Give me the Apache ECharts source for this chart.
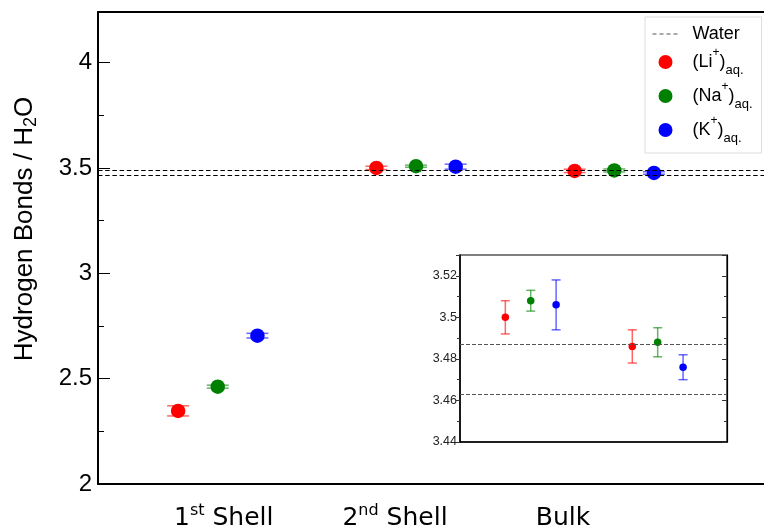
<!DOCTYPE html>
<html><head><meta charset="utf-8">
<script src="https://cdn.jsdelivr.net/npm/echarts@6/dist/echarts.min.js"></script>
<style>html,body{margin:0;padding:0;background:#fff}#c{width:764px;height:527px}</style>
</head><body><div id="c"></div>
<script>
// ---- data ----
const groupLabelBase = ['1', '2', 'Bulk'];
const groupLabelSup = ['st', 'nd', ''];
const groupLabelTail = [' Shell', ' Shell', ''];
const ions = ['Li', 'Na', 'K'];
const liValues = [2.347, 3.500, 3.486];
const liErrors = [0.024, 0.008, 0.008];
const naValues = [2.462, 3.508, 3.488];
const naErrors = [0.007, 0.005, 0.007];
const kValues = [2.704, 3.506, 3.476];
const kErrors = [0.011, 0.012, 0.006];
const waterValues = [3.487, 3.463];
const yTicksMain = [2, 2.5, 3, 3.5, 4];
const yTicksInset = [3.44, 3.46, 3.48, 3.5, 3.52];

// ---- layout ----
const groupPos = [1, 2, 3];
const ionOffset = [-0.2, 0, 0.2];
const labelPos = [1.03, 1.894, 2.741];
const colors = ['#ff0000', '#008000', '#0000ff'];
const errColors = ['rgba(255,0,0,0.6)', 'rgba(0,128,0,0.6)', 'rgba(0,0,255,0.6)'];
const valueSets = [liValues, naValues, kValues];
const errorSets = [liErrors, naErrors, kErrors];
const SANS = 'Liberation Sans';

function errRender(capHalf, lw) {
  return function (params, api) {
    const x = api.value(0), lo = api.value(2), hi = api.value(3);
    const a = api.coord([x, lo]), b = api.coord([x, hi]);
    const st = { stroke: api.visual('color'), lineWidth: lw, fill: null };
    return { type: 'group', children: [
      { type: 'line', shape: { x1: a[0], y1: a[1], x2: b[0], y2: b[1] }, style: st },
      { type: 'line', shape: { x1: a[0] - capHalf, y1: a[1], x2: a[0] + capHalf, y2: a[1] }, style: st },
      { type: 'line', shape: { x1: b[0] - capHalf, y1: b[1], x2: b[0] + capHalf, y2: b[1] }, style: st }
    ]};
  };
}

const series = [];
// water reference lines
series.push({ name: 'Water', type: 'line', xAxisIndex: 0, yAxisIndex: 0, data: [], symbol: 'none',
  itemStyle: { color: '#555' }, lineStyle: { type: [4, 3], color: '#555', width: 1 },
  markLine: { silent: true, precision: 4, symbol: ['none', 'none'], label: { show: false },
    lineStyle: { type: [4.5, 2.7], color: '#000', width: 1 },
    data: waterValues.map(v => ({ yAxis: v })) } });
series.push({ name: 'Water', type: 'line', xAxisIndex: 1, yAxisIndex: 1, data: [], symbol: 'none',
  lineStyle: { type: [4, 3], color: '#555', width: 1 },
  markLine: { silent: true, precision: 4, symbol: ['none', 'none'], label: { show: false },
    lineStyle: { type: [4, 2], color: '#555', width: 1 },
    data: waterValues.map(v => ({ yAxis: v })) } });

ions.forEach((ion, i) => {
  const vals = valueSets[i], errs = errorSets[i];
  const mainPts = vals.map((v, j) => [groupPos[j] + ionOffset[i], v]);
  const mainErr = vals.map((v, j) => [groupPos[j] + ionOffset[i], v, v - errs[j], v + errs[j]]);
  series.push({ name: ion + ' err', type: 'custom', xAxisIndex: 0, yAxisIndex: 0, z: 2,
    itemStyle: { color: errColors[i] }, renderItem: errRender(11, 1.5), data: mainErr, encode: { x: 0, y: 1 } });
  series.push({ name: ion, type: 'scatter', xAxisIndex: 0, yAxisIndex: 0, z: 3,
    symbolSize: 14.5, itemStyle: { color: colors[i], opacity: 1 }, data: mainPts });
  const insetIdx = [1, 2];
  series.push({ name: ion + ' err', type: 'custom', xAxisIndex: 1, yAxisIndex: 1, z: 2,
    itemStyle: { color: errColors[i] }, renderItem: errRender(4.5, 1.5),
    data: insetIdx.map(j => mainErr[j]), encode: { x: 0, y: 1 } });
  series.push({ name: ion, type: 'scatter', xAxisIndex: 1, yAxisIndex: 1, z: 3,
    symbolSize: 7.5, itemStyle: { color: colors[i], opacity: 1 }, data: insetIdx.map(j => mainPts[j]) });
});

const legendRich = {
  w: { fontFamily: SANS, fontSize: 18, lineHeight: 14, color: '#000', padding: [0, 0, 0, 9] },
  t: { fontFamily: SANS, fontSize: 18, lineHeight: 30, color: '#000', verticalAlign: 'middle' },
  p: { fontFamily: SANS, fontSize: 18, lineHeight: 30, color: '#000', verticalAlign: 'middle', padding: [0, 0, 0, 9] },
  sup: { fontFamily: SANS, fontSize: 12, lineHeight: 12, color: '#000', verticalAlign: 'top' },
  sub: { fontFamily: SANS, fontSize: 13, lineHeight: 13, color: '#000', verticalAlign: 'bottom' }
};

const option = {
  animation: false,
  backgroundColor: '#fff',
  grid: [
    { left: 98, right: 0, top: 12, bottom: 43, outerBoundsMode: 'none', containLabel: false },
    { left: 460, top: 255, width: 267, height: 187, show: true, backgroundColor: '#fff', borderColor: '#000', borderWidth: 1.2, outerBoundsMode: 'none', containLabel: false }
  ],
  legend: {
    data: [{ name: 'Water', itemStyle: { opacity: 0 }, lineStyle: { color: '#555', type: [4, 3], width: 1 } }].concat(ions),
    orient: 'vertical', left: 645, top: 17,
    padding: [8, 9, 8, 7], itemGap: 4, itemWidth: 26, itemHeight: 14,
    borderColor: '#ddd', borderWidth: 1, backgroundColor: '#fff',
    formatter: name => name === 'Water' ? '{w|Water}' : '{p|(' + name + '}{sup|+}{t|)}{sub|aq.}',
    textStyle: { rich: legendRich }
  },
  xAxis: [
    { type: 'value', gridIndex: 0, min: 0.396, max: 3.755, splitLine: { show: false },
      axisLine: { show: true, lineStyle: { color: '#000', width: 2 } }, axisTick: { show: false },
      axisLabel: { customValues: labelPos, margin: 19,
        formatter: (v) => { let j = 0; labelPos.forEach((p, k) => { if (Math.abs(p - v) < 0.01) j = k; });
          return '{n|' + groupLabelBase[j] + '}' + (groupLabelSup[j] ? '{s|' + groupLabelSup[j] + '}' : '') + (groupLabelTail[j] ? '{n|' + groupLabelTail[j] + '}' : ''); },
        rich: { n: { fontFamily: 'DejaVu Sans', fontSize: 25, lineHeight: 30, color: '#000' },
                s: { fontFamily: 'DejaVu Sans', fontSize: 16, lineHeight: 20, color: '#000', verticalAlign: 'top' } } } },
    { type: 'value', gridIndex: 1, min: 1.443, max: 3.546, splitLine: { show: false },
      axisLine: { show: true, lineStyle: { color: '#000', width: 1.5 } }, axisTick: { show: false }, axisLabel: { show: false } },
    { type: 'value', gridIndex: 0, position: 'top', min: 0.396, max: 3.755, splitLine: { show: false },
      axisLine: { show: true, lineStyle: { color: '#000', width: 2 } }, axisTick: { show: false }, axisLabel: { show: false } }
  ],
  yAxis: [
    { type: 'value', gridIndex: 0, min: 2, max: 4.24, interval: 0.5, splitLine: { show: false },
      axisLine: { show: true, lineStyle: { color: '#000', width: 2 } },
      axisTick: { inside: true, length: 12, lineStyle: { color: '#000', width: 1 } },
      minorTick: { show: true, splitNumber: 2, length: 6, lineStyle: { color: '#000', width: 1 } },
      axisLabel: { customValues: yTicksMain, fontFamily: SANS, fontSize: 24, color: '#000', margin: 6 } },
    { type: 'value', gridIndex: 1, min: 3.44, max: 3.53, interval: 0.02, splitLine: { show: false },
      axisLine: { show: true, lineStyle: { color: '#000', width: 1.5 } },
      axisTick: { inside: false, length: 4, lineStyle: { color: '#333', width: 1 } },
      minorTick: { show: true, splitNumber: 2, length: 3, lineStyle: { color: '#333', width: 1 } },
      axisLabel: { customValues: yTicksInset, fontFamily: SANS, fontSize: 12.5, color: '#222', margin: 3 } },
    { type: 'value', gridIndex: 1, position: 'right', min: 3.44, max: 3.53, interval: 0.02, splitLine: { show: false },
      axisLine: { show: true, lineStyle: { color: '#000', width: 1.2 } },
      axisTick: { inside: true, length: 5, lineStyle: { color: '#333', width: 1 } },
      minorTick: { show: true, splitNumber: 2, length: 3, lineStyle: { color: '#333', width: 1 } },
      axisLabel: { show: false } }
  ],
  graphic: [
    { type: 'text', x: 25, y: 229, rotation: Math.PI / 2,
      style: { text: 'Hydrogen Bonds / H{sub|2}O', fontFamily: SANS, fontSize: 26, fill: '#000',
        align: 'center', verticalAlign: 'middle', lineHeight: 30,
        rich: { sub: { fontFamily: SANS, fontSize: 18, fill: '#000', verticalAlign: 'bottom', lineHeight: 18 } } } }
  ],
  series: series
};

const chart = echarts.init(document.getElementById('c'), null, { renderer: 'canvas' });
chart.setOption(option);
</script>
</body></html>
